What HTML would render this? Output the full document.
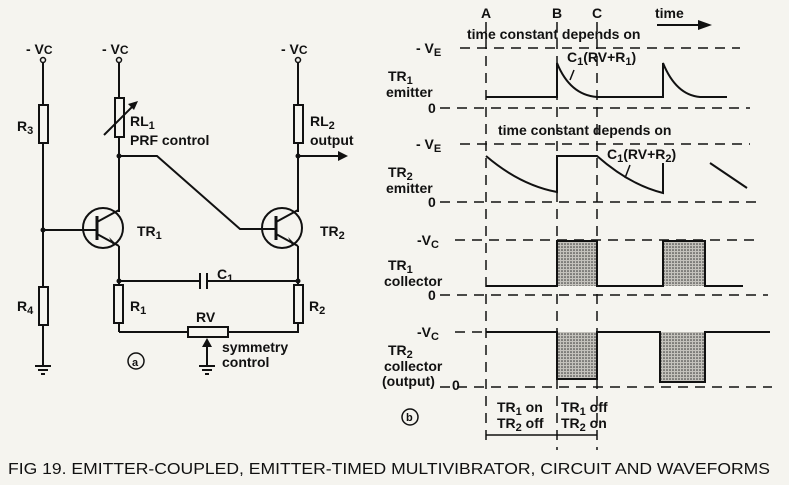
<!DOCTYPE html>
<html><head><meta charset="utf-8"><style>
html,body{margin:0;padding:0;background:#f5f4ef;}
svg{display:block;}
text{font-family:"Liberation Sans",sans-serif;font-weight:bold;fill:#111;}
</style></head><body>
<svg width="789" height="485" viewBox="0 0 789 485" xmlns="http://www.w3.org/2000/svg">
<defs>
<pattern id="dots" width="3" height="3" patternUnits="userSpaceOnUse"><rect width="3" height="3" fill="#c4c2bc"/><circle cx="1" cy="1" r="0.8" fill="#333"/></pattern>
</defs>
<g stroke="#111" stroke-width="2" fill="none">
<circle cx="43" cy="60" r="2.5" stroke-width="1.5"/>
<line x1="43" y1="62" x2="43" y2="105"/>
<rect x="39" y="105" width="9" height="38" fill="#f5f4ef"/>
<line x1="43" y1="143" x2="43" y2="287"/>
<rect x="39" y="287" width="9" height="38" fill="#f5f4ef"/>
<line x1="43" y1="325" x2="43" y2="365"/>
<line x1="35" y1="366" x2="51" y2="366"/><line x1="38" y1="370" x2="48" y2="370"/><line x1="41" y1="374" x2="45" y2="374"/>
<line x1="43" y1="230" x2="83" y2="230"/>
<circle cx="119" cy="60" r="2.5" stroke-width="1.5"/>
<line x1="119" y1="62" x2="119" y2="98"/>
<rect x="115" y="98" width="9" height="39" fill="#f5f4ef"/>
<line x1="104" y1="135" x2="136" y2="103"/>
<line x1="119" y1="137" x2="119" y2="212"/>
<polyline points="119,156 157,156 240,229 262,229"/>
<circle cx="103" cy="228" r="20"/>
<line x1="97" y1="216" x2="97" y2="240" stroke-width="3"/>
<line x1="83" y1="230" x2="97" y2="230"/>
<line x1="97" y1="222" x2="119" y2="210"/>
<line x1="97" y1="234" x2="119" y2="246"/>
<line x1="119" y1="246" x2="119" y2="285"/>
<line x1="119" y1="281" x2="200" y2="281"/>
<line x1="200" y1="273" x2="200" y2="289"/><line x1="207" y1="273" x2="207" y2="289"/>
<line x1="207" y1="281" x2="298" y2="281"/>
<rect x="114" y="285" width="9" height="38" fill="#f5f4ef"/>
<line x1="119" y1="323" x2="119" y2="332"/>
<polyline points="119,332 188,332"/>
<rect x="188" y="327" width="40" height="10" fill="#f5f4ef"/>
<polyline points="228,332 298,332 298,323"/>
<line x1="207" y1="365" x2="207" y2="343"/>
<line x1="199" y1="366" x2="215" y2="366"/><line x1="202" y1="370" x2="212" y2="370"/><line x1="205" y1="374" x2="209" y2="374"/>
<circle cx="298" cy="60" r="2.5" stroke-width="1.5"/>
<line x1="298" y1="62" x2="298" y2="105"/>
<rect x="294" y="105" width="9" height="38" fill="#f5f4ef"/>
<line x1="298" y1="143" x2="298" y2="212"/>
<line x1="298" y1="156" x2="340" y2="156"/>
<circle cx="282" cy="228" r="20"/>
<line x1="276" y1="216" x2="276" y2="240" stroke-width="3"/>
<line x1="262" y1="229" x2="276" y2="229"/>
<line x1="276" y1="222" x2="298" y2="210"/>
<line x1="276" y1="234" x2="298" y2="246"/>
<line x1="298" y1="246" x2="298" y2="285"/>
<rect x="294" y="285" width="9" height="38" fill="#f5f4ef"/>
<circle cx="136" cy="361" r="8" stroke-width="1.5"/>
<circle cx="410" cy="417" r="8" stroke-width="1.5"/>
</g>
<g fill="#111">
<circle cx="119" cy="156" r="2.5"/><circle cx="43" cy="230" r="2.5"/><circle cx="298" cy="156" r="2.5"/>
<circle cx="119" cy="281" r="2.5"/><circle cx="298" cy="281" r="2.5"/>
<polygon points="138,101 128,104 134,110"/>
<polygon points="348,156 338,151 338,161"/>
<polygon points="207,338 202,347 212,347"/>
<polygon points="117,245 109,237 113,245"/>
<polygon points="296,245 288,237 292,245"/>
</g>
<g font-size="14">
<text x="26" y="54">- V<tspan font-size="12">C</tspan></text><text x="102" y="54">- V<tspan font-size="12">C</tspan></text><text x="281" y="54">- V<tspan font-size="12">C</tspan></text>
<text x="17" y="131">R<tspan font-size="11" dy="3">3</tspan></text><text x="17" y="311">R<tspan font-size="11" dy="3">4</tspan></text>
<text x="130" y="126">RL<tspan font-size="11" dy="3">1</tspan></text><text x="130" y="145">PRF control</text>
<text x="310" y="126">RL<tspan font-size="11" dy="3">2</tspan></text><text x="310" y="145">output</text>
<text x="137" y="236">TR<tspan font-size="11" dy="3">1</tspan></text><text x="320" y="236">TR<tspan font-size="11" dy="3">2</tspan></text>
<text x="217" y="279">C<tspan font-size="11" dy="3">1</tspan></text>
<text x="130" y="311">R<tspan font-size="11" dy="3">1</tspan></text><text x="309" y="311">R<tspan font-size="11" dy="3">2</tspan></text>
<text x="196" y="322">RV</text>
<text x="222" y="352">symmetry</text><text x="222" y="367">control</text>
<text x="132" y="366" font-size="11">a</text>
<text x="406" y="421" font-size="11">b</text>
</g>
<g stroke="#111" stroke-width="1.5" fill="none" stroke-dasharray="10,7">
<line x1="460" y1="48" x2="740" y2="48"/><line x1="440" y1="108" x2="750" y2="108"/>
<line x1="460" y1="144" x2="750" y2="144"/><line x1="440" y1="202" x2="760" y2="202"/>
<line x1="455" y1="240" x2="755" y2="240"/><line x1="440" y1="295" x2="768" y2="295"/>
<line x1="455" y1="332" x2="486" y2="332"/><line x1="440" y1="387" x2="772" y2="387"/>
<line x1="486" y1="22" x2="486" y2="440"/><line x1="557" y1="22" x2="557" y2="450"/><line x1="597" y1="22" x2="597" y2="450"/>
</g>
<g fill="url(#dots)" stroke="none">
<rect x="557" y="241" width="40" height="45"/><rect x="663" y="241" width="42" height="45"/>
<rect x="557" y="332" width="40" height="47"/><rect x="660" y="332" width="45" height="50"/>
</g>
<g stroke="#111" stroke-width="2" fill="none">
<path d="M486,97 L557,97 L557,63 Q570,95 597,97 L663,97 L663,63 Q676,95 700,97 L727,97"/>
<path d="M486,156 Q520,185 557,192 L557,156 L597,156 Q630,185 663,193 L663,163"/>
<path d="M710,163 L747,188"/>
<path d="M486,286 L557,286 L557,241 L597,241 L597,286 L663,286 L663,241 L705,241 L705,286 L743,286"/>
<path d="M486,332 L557,332 L557,379 L597,379 L597,332 L660,332 L660,382 L705,382 L705,332 L770,332"/>
<line x1="570" y1="80" x2="574" y2="70" stroke-width="1.5"/>
<line x1="625" y1="178" x2="630" y2="165" stroke-width="1.5"/>
<line x1="657" y1="25" x2="700" y2="25"/>
<line x1="486" y1="435" x2="557" y2="435" stroke-width="1.5"/><line x1="557" y1="435" x2="597" y2="435" stroke-width="1.5"/>
</g>
<g fill="#111"><polygon points="712,25 698,20 698,30"/></g>
<g font-size="14">
<text x="481" y="18">A</text><text x="552" y="18">B</text><text x="592" y="18">C</text>
<text x="655" y="18">time</text>
<text x="467" y="39">time  constant depends on</text>
<text x="498" y="135">time constant depends on</text>
<text x="567" y="62">C<tspan font-size="11" dy="3">1</tspan><tspan dy="-3">(RV+R</tspan><tspan font-size="11" dy="3">1</tspan><tspan dy="-3">)</tspan></text>
<text x="607" y="159">C<tspan font-size="11" dy="3">1</tspan><tspan dy="-3">(RV+R</tspan><tspan font-size="11" dy="3">2</tspan><tspan dy="-3">)</tspan></text>
<text x="416" y="53">- V<tspan font-size="11" dy="3">E</tspan></text><text x="416" y="149">- V<tspan font-size="11" dy="3">E</tspan></text>
<text x="417" y="245">-V<tspan font-size="11" dy="3">C</tspan></text><text x="417" y="337">-V<tspan font-size="11" dy="3">C</tspan></text>
<text x="388" y="81">TR<tspan font-size="11" dy="3">1</tspan></text><text x="386" y="97">emitter</text>
<text x="388" y="177">TR<tspan font-size="11" dy="3">2</tspan></text><text x="386" y="193">emitter</text>
<text x="388" y="270">TR<tspan font-size="11" dy="3">1</tspan></text><text x="384" y="286">collector</text>
<text x="388" y="355">TR<tspan font-size="11" dy="3">2</tspan></text><text x="384" y="371">collector</text><text x="382" y="386">(output)</text>
<text x="428" y="113">0</text><text x="428" y="207">0</text><text x="428" y="300">0</text><text x="452" y="390">0</text>
<text x="497" y="412">TR<tspan font-size="11" dy="3">1</tspan><tspan dy="-3"> on</tspan></text><text x="497" y="428">TR<tspan font-size="11" dy="3">2</tspan><tspan dy="-3"> off</tspan></text>
<text x="561" y="412">TR<tspan font-size="11" dy="3">1</tspan><tspan dy="-3"> off</tspan></text><text x="561" y="428">TR<tspan font-size="11" dy="3">2</tspan><tspan dy="-3"> on</tspan></text>
</g>
<text x="8" y="474" font-size="16" textLength="762" lengthAdjust="spacingAndGlyphs" style="font-weight:normal">FIG 19.   EMITTER-COUPLED, EMITTER-TIMED MULTIVIBRATOR, CIRCUIT AND WAVEFORMS</text>
</svg>
</body></html>
